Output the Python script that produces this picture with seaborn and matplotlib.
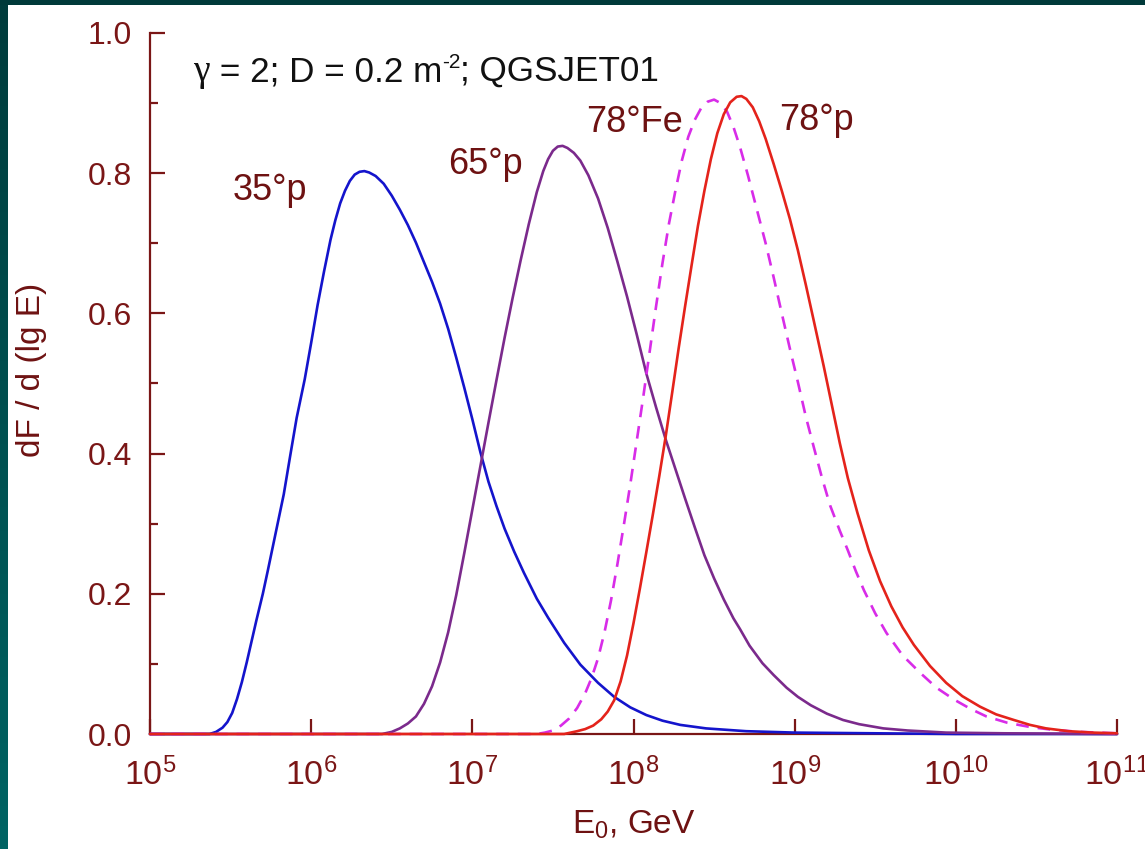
import numpy as np
import pandas as pd
import matplotlib
matplotlib.use("Agg")
import matplotlib.pyplot as plt
import seaborn as sns
from matplotlib.ticker import FixedLocator, NullLocator, MultipleLocator, FuncFormatter
from matplotlib.transforms import IdentityTransform
from matplotlib.colors import LinearSegmentedColormap

# ---------------- data (lg E0 [GeV] -> dF/d(lg E)) ----------------
p35_lg = [5.00, 5.37, 5.41, 5.45, 5.48, 5.51, 5.54, 5.57, 5.60, 5.63, 5.66, 5.70, 5.73, 5.78,
          5.83, 5.87, 5.91, 5.96, 6.00, 6.04, 6.08, 6.12, 6.15, 6.18, 6.21, 6.24, 6.27, 6.30,
          6.33, 6.36, 6.40, 6.45, 6.50, 6.55, 6.60, 6.65, 6.70, 6.75, 6.80, 6.85, 6.90, 6.95,
          7.00, 7.05, 7.10, 7.15, 7.20, 7.26, 7.32, 7.40, 7.47, 7.57, 7.67, 7.78, 7.88, 7.98,
          8.08, 8.18, 8.29, 8.45, 8.70, 9.00, 9.50, 10.0, 11.0]
p35_v = [0.000, 0.000, 0.003, 0.009, 0.017, 0.030, 0.050, 0.074, 0.102, 0.132, 0.162, 0.200, 0.232, 0.287,
         0.342, 0.397, 0.451, 0.506, 0.558, 0.612, 0.660, 0.705, 0.733, 0.757, 0.775, 0.789, 0.798, 0.802,
         0.803, 0.801, 0.796, 0.785, 0.768, 0.748, 0.726, 0.701, 0.673, 0.645, 0.614, 0.578, 0.537, 0.494,
         0.449, 0.402, 0.360, 0.325, 0.293, 0.260, 0.230, 0.193, 0.166, 0.130, 0.099, 0.073, 0.053, 0.038,
         0.027, 0.019, 0.013, 0.008, 0.004, 0.002, 0.001, 0.000, 0.000]

p65_lg = [5.00, 6.44, 6.50, 6.55, 6.60, 6.65, 6.70, 6.75, 6.80, 6.85, 6.90, 6.95, 7.00, 7.05,
          7.10, 7.15, 7.20, 7.25, 7.30, 7.35, 7.40, 7.44, 7.47, 7.50, 7.53, 7.56, 7.59, 7.63,
          7.67, 7.72, 7.78, 7.84, 7.90, 7.96, 8.02, 8.08, 8.14, 8.20, 8.26, 8.32, 8.38, 8.44,
          8.50, 8.56, 8.62, 8.66, 8.72, 8.80, 8.87, 8.95, 9.02, 9.10, 9.20, 9.30, 9.40, 9.55,
          9.70, 9.94, 10.3, 11.0]
p65_v = [0.000, 0.000, 0.003, 0.008, 0.015, 0.025, 0.043, 0.068, 0.102, 0.145, 0.198, 0.258, 0.320, 0.382,
         0.444, 0.505, 0.565, 0.622, 0.676, 0.727, 0.773, 0.803, 0.820, 0.832, 0.838, 0.839, 0.836, 0.829,
         0.818, 0.797, 0.764, 0.722, 0.674, 0.624, 0.570, 0.514, 0.466, 0.420, 0.378, 0.336, 0.295, 0.255,
         0.222, 0.192, 0.165, 0.150, 0.126, 0.101, 0.084, 0.066, 0.053, 0.041, 0.029, 0.020, 0.014, 0.008,
         0.005, 0.002, 0.001, 0.000]

fe78_lg = [5.00, 7.40, 7.45, 7.50, 7.55, 7.60, 7.65, 7.70, 7.74, 7.78, 7.82, 7.86, 7.90, 7.94,
           7.98, 8.02, 8.06, 8.10, 8.14, 8.18, 8.22, 8.26, 8.30, 8.34, 8.38, 8.42, 8.46, 8.50,
           8.54, 8.58, 8.62, 8.66, 8.71, 8.76, 8.82, 8.87, 8.92, 8.97, 9.02, 9.07, 9.12, 9.17,
           9.22, 9.28, 9.33, 9.38, 9.43, 9.50, 9.57, 9.67, 9.78, 9.88, 9.99, 10.09, 10.19, 10.32,
           10.46, 10.60, 10.77, 11.0]
fe78_v = [0.000, 0.000, 0.002, 0.005, 0.012, 0.022, 0.037, 0.058, 0.080, 0.108, 0.145, 0.190, 0.242, 0.298,
          0.356, 0.418, 0.480, 0.545, 0.610, 0.672, 0.728, 0.775, 0.818, 0.852, 0.876, 0.893, 0.902, 0.905,
          0.900, 0.888, 0.866, 0.838, 0.797, 0.753, 0.700, 0.651, 0.600, 0.550, 0.502, 0.452, 0.408, 0.365,
          0.326, 0.290, 0.262, 0.232, 0.205, 0.172, 0.144, 0.112, 0.087, 0.066, 0.049, 0.036, 0.025, 0.016,
          0.010, 0.006, 0.003, 0.001]

p78_lg = [5.00, 7.57, 7.65, 7.70, 7.75, 7.80, 7.84, 7.88, 7.92, 7.96, 8.00, 8.04, 8.08, 8.12,
          8.16, 8.20, 8.24, 8.28, 8.32, 8.36, 8.40, 8.44, 8.48, 8.52, 8.56, 8.60, 8.64, 8.67,
          8.70, 8.74, 8.78, 8.82, 8.87, 8.92, 8.97, 9.02, 9.07, 9.12, 9.18, 9.23, 9.28, 9.33,
          9.39, 9.46, 9.53, 9.60, 9.67, 9.74, 9.84, 9.94, 10.04, 10.15, 10.25, 10.36, 10.46, 10.56,
          10.70, 10.85, 11.0]
p78_v = [0.000, 0.000, 0.004, 0.007, 0.012, 0.021, 0.032, 0.048, 0.075, 0.112, 0.158, 0.208, 0.260, 0.313,
         0.368, 0.425, 0.487, 0.550, 0.610, 0.668, 0.725, 0.775, 0.820, 0.857, 0.884, 0.901, 0.909, 0.910,
         0.906, 0.894, 0.874, 0.849, 0.813, 0.775, 0.735, 0.690, 0.640, 0.588, 0.525, 0.470, 0.415, 0.365,
         0.315, 0.262, 0.218, 0.182, 0.152, 0.127, 0.097, 0.073, 0.054, 0.039, 0.028, 0.020, 0.013, 0.008,
         0.004, 0.002, 0.001]

x_tick_exp = [5, 6, 7, 8, 9, 10, 11]
y_ticks = [0.0, 0.2, 0.4, 0.6, 0.8, 1.0]

labels = ["35°p", "65°p", "78°Fe", "78°p"]

# ---------------- style ----------------
W, H, DPI = 1145, 849, 100
sns.set_style("white")
plt.rcParams["font.family"] = ["Liberation Sans", "DejaVu Sans"]
plt.rcParams["mathtext.fontset"] = "custom"
plt.rcParams["mathtext.rm"] = "Liberation Sans"
plt.rcParams["mathtext.it"] = "Liberation Sans:italic"
plt.rcParams["mathtext.bf"] = "Liberation Sans:bold"

AX_COL = "#7a1616"
TXT_COL = "#6e1212"

fig = plt.figure(figsize=(W / DPI, H / DPI), dpi=DPI, facecolor="white")

# slide border (dark teal)
bax = fig.add_axes([0, 0, 8 / W, 1])
grad = np.linspace(0, 1, 256).reshape(-1, 1)
cm = LinearSegmentedColormap.from_list("teal", ["#003c3c", "#006464"])
bax.imshow(grad, aspect="auto", cmap=cm, extent=[0, 1, 0, 1], origin="upper")
bax.set_axis_off()
tax = fig.add_axes([0, 1 - 5 / H, 1, 5 / H])
tax.set_facecolor("#003a3a")
tax.set_xticks([]); tax.set_yticks([])
for s in tax.spines.values():
    s.set_visible(False)

ax = fig.add_axes([150 / W, 1 - 734 / H, (1117 - 150) / W, (734 - 33) / H])
ax.set_facecolor("none")

series = [
    (p35_lg, p35_v, "#1414cc", "-"),
    (p65_lg, p65_v, "#7b2a8c", "-"),
    (fe78_lg, fe78_v, "#d82ce8", "--"),
    (p78_lg, p78_v, "#e4231b", "-"),
]
for lg, v, col, ls in series:
    df = pd.DataFrame({"E": 10.0 ** np.asarray(lg), "v": v})
    sns.lineplot(data=df, x="E", y="v", color=col, linewidth=1.9, ax=ax,
                 estimator=None, sort=True, clip_on=False)
    l = ax.lines[-1]
    if ls == "--":
        l.set_dashes([4.8, 3.4])
    l.set_zorder(3)

ax.set_xscale("log")
ax.set_xlim(1e5, 1e11)
ax.set_ylim(0.0, 1.0)

ax.xaxis.set_major_locator(FixedLocator([10.0 ** e for e in x_tick_exp]))
ax.xaxis.set_minor_locator(NullLocator())
ax.xaxis.set_major_formatter(FuncFormatter(lambda x, p: r"$\mathregular{10^{%d}}$" % round(np.log10(x))))
ax.yaxis.set_major_locator(FixedLocator(y_ticks))
ax.yaxis.set_minor_locator(MultipleLocator(0.1))
ax.yaxis.set_major_formatter(FuncFormatter(lambda y, p: "%.1f" % y))

for s in ["top", "right"]:
    ax.spines[s].set_visible(False)
for s in ["left", "bottom"]:
    ax.spines[s].set_color(AX_COL)
    ax.spines[s].set_linewidth(1.6)
    ax.spines[s].set_zorder(2)

ax.tick_params(axis="both", which="both", bottom=True, left=True, top=False, right=False)
ax.tick_params(axis="both", which="major", direction="in", length=11, width=1.6,
               color=AX_COL, labelcolor=AX_COL)
ax.tick_params(axis="both", which="minor", direction="in", length=6, width=1.6, color=AX_COL)
ax.tick_params(axis="y", which="major", pad=13, labelsize=23)
ax.tick_params(axis="x", which="major", pad=17, labelsize=24.5)

ax.set_xlabel(r"E$_{\mathregular{0}}$, GeV", fontsize=24, color=TXT_COL, labelpad=12)
ax.set_ylabel("dF / d (lg E)", fontsize=24, color=TXT_COL)
ax.yaxis.set_label_coords(-0.106, 0.52)

def axpos(px, py):
    return ((px - 150) / (1117 - 150), (734 - py) / (734 - 33))

lab_pos = [(270, 190), (485, 165), (635, 122), (816, 120)]
for t, (px, py) in zip(labels, lab_pos):
    ax.text(*axpos(px, py), t, transform=ax.transAxes, fontsize=26, color=TXT_COL,
            ha="center", va="center")

# parameter line, assembled piecewise on a common baseline (pixel coordinates)
renderer = fig.canvas.get_renderer()
pieces = [("γ", 27, "Liberation Serif", 0),
          (" = 2; D = 0.2 m", 25.3, "Liberation Sans", 0),
          ("-2", 15, "Liberation Sans", 13),
          ("; QGSJET01", 25.3, "Liberation Sans", 0)]
xcur, ybase = 193, H - 81
for s, fs, fam, dy in pieces:
    t = fig.text(xcur, ybase + dy, s, transform=IdentityTransform(), fontsize=fs,
                 family=fam, color="#111111", ha="left", va="baseline")
    bb = t.get_window_extent(renderer)
    xcur = bb.x1

fig.savefig("out.png", dpi=DPI, facecolor="white")
